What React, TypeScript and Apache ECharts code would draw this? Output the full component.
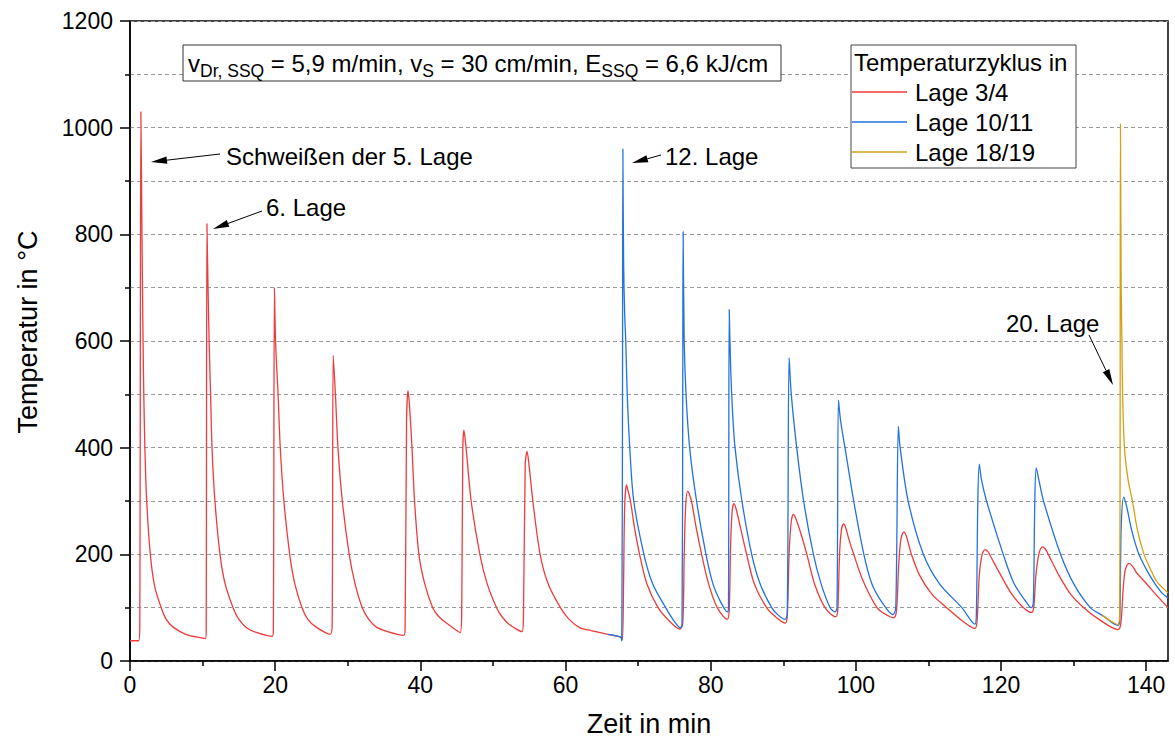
import React, { useEffect, useRef } from "react";
import * as echarts from "echarts";

// ---- data (time in min, temperature in °C) ----
const seriesNames = ["Lage 3/4", "Lage 10/11", "Lage 18/19"];
const seriesColors = ["#ee3b3b", "#2272e2", "#d6a010"];

const lage34: [number, number][] = [
  [0, 38], [1.2, 38], [1.35, 70], [1.5, 1030], [1.65, 800], [1.8, 600], [1.9, 500], [2.05, 400], [2.3, 300], [2.8, 200], [3.4, 140], [4.3, 100], [5.0, 78], [5.9, 64], [7.7, 50], [10.4, 42],
  [10.5, 60], [10.6, 820], [10.75, 700], [10.9, 600], [11.1, 500], [11.3, 400], [11.7, 300], [12.4, 200], [13.1, 145], [14.2, 100], [15.0, 78], [16.1, 62], [17.5, 53], [19.6, 46],
  [19.75, 60], [19.9, 700], [20.05, 600], [20.4, 500], [20.7, 400], [21.2, 300], [22.0, 200], [22.7, 145], [23.7, 100], [24.5, 78], [25.6, 64], [27.6, 50],
  [27.85, 70], [28.0, 573], [28.3, 500], [28.65, 400], [29.25, 300], [30.2, 200], [31.0, 145], [32.0, 100], [32.9, 78], [33.9, 64], [35.5, 55], [37.7, 48],
  [37.9, 60], [38.1, 450], [38.3, 507], [38.5, 480], [38.85, 400], [39.2, 300], [39.8, 200], [40.6, 145], [41.7, 100], [42.5, 84], [43.5, 72], [45.5, 53],
  [45.7, 100], [45.85, 400], [46.0, 433], [46.3, 400], [47.0, 300], [48.2, 200], [49.2, 145], [50.5, 100], [51.3, 82], [52.3, 68], [54.0, 55],
  [54.2, 80], [54.45, 370], [54.7, 393], [54.95, 370], [55.5, 300], [56.5, 200], [57.6, 145], [59.3, 100], [60.5, 78], [62.0, 62], [63.5, 57], [65.8, 50], [67.7, 44], [67.85, 40],
  [68.0, 150], [68.15, 290], [68.4, 330], [68.6, 320], [68.95, 300], [69.5, 250], [70.2, 200], [71.2, 145], [72.75, 100], [74.3, 75], [75.75, 60],
  [76.15, 70], [76.35, 200], [76.55, 290], [76.8, 318], [77.0, 315], [77.35, 300], [78.0, 250], [78.75, 200], [79.7, 145], [80.9, 100], [82.3, 78],
  [82.55, 95], [82.75, 220], [82.95, 280], [83.2, 295], [83.5, 285], [84.1, 250], [84.95, 200], [86.0, 145], [87.7, 100], [89.0, 82], [90.25, 71],
  [90.55, 85], [90.8, 200], [91.1, 262], [91.4, 275], [91.7, 268], [92.4, 240], [93.25, 200], [94.3, 145], [95.75, 100], [97.2, 83],
  [97.5, 95], [97.75, 200], [98.0, 245], [98.3, 257], [98.6, 250], [99.0, 230], [99.7, 200], [101.0, 150], [102.9, 100], [104.0, 88], [105.2, 81],
  [105.6, 95], [105.9, 180], [106.2, 228], [106.6, 242], [107.0, 232], [107.65, 200], [108.8, 160], [110.5, 125], [112.5, 100], [114.5, 77], [116.4, 61],
  [116.7, 75], [117.0, 160], [117.4, 200], [117.8, 209], [118.2, 205], [118.6, 195], [120.0, 160], [121.5, 125], [123.1, 100], [124.2, 91],
  [124.5, 100], [124.8, 160], [125.2, 200], [125.7, 214], [126.1, 210], [126.5, 200], [128.0, 160], [129.6, 125], [131.4, 100], [133.5, 78], [136.1, 59],
  [136.5, 70], [136.8, 130], [137.1, 170], [137.6, 183], [138.1, 178], [138.7, 165], [140.1, 144], [141.5, 122], [143, 100],
];

const lage1011: [number, number][] = [
  [65.8, 50], [67.6, 45], [67.75, 38], [67.85, 500], [67.9, 960], [68.0, 750], [68.15, 650], [68.3, 600], [68.5, 500], [68.85, 400], [69.4, 300], [70.8, 200], [72.0, 145], [73.8, 100], [74.8, 78], [75.85, 62],
  [76.05, 70], [76.15, 500], [76.2, 805], [76.35, 600], [76.6, 500], [77.1, 400], [78.05, 300], [79.35, 200], [80.3, 145], [81.4, 110], [82.3, 92],
  [82.45, 100], [82.55, 659], [82.75, 550], [83.0, 470], [83.35, 400], [84.3, 300], [85.65, 200], [86.8, 145], [88.4, 100], [89.3, 86], [90.25, 78],
  [90.55, 90], [90.8, 569], [91.1, 500], [91.85, 400], [92.8, 300], [94.15, 200], [95.2, 145], [96.45, 100], [97.15, 92],
  [97.4, 100], [97.6, 489], [97.9, 450], [98.5, 400], [99.7, 300], [101.1, 200], [102.2, 145], [103.6, 110], [105.1, 87],
  [105.5, 100], [105.85, 440], [106.1, 400], [107.2, 300], [109.3, 200], [111.5, 145], [114.6, 100], [116.4, 69],
  [116.6, 90], [116.8, 300], [117.0, 369], [117.3, 340], [118.0, 300], [120.3, 200], [121.8, 145], [123.8, 104], [124.2, 100],
  [124.45, 110], [124.65, 300], [124.85, 362], [125.2, 340], [125.85, 300], [128.2, 200], [130.0, 145], [132.3, 100], [134.0, 85], [136.1, 67],
  [136.35, 75], [136.55, 250], [136.9, 307], [137.3, 290], [138.0, 245], [139.0, 200], [140.5, 160], [142.0, 130], [143, 118],
];

const lage1819: [number, number][] = [
  [133.9, 86], [135.0, 76], [136.1, 68], [136.35, 100], [136.45, 1007], [136.55, 700], [136.65, 600], [136.75, 500], [137.0, 400], [137.5, 340], [138.1, 300], [138.8, 245], [139.7, 200], [140.5, 175], [141.4, 150], [142.2, 138], [143, 128],
];

const xMajorTicks = [0, 20, 40, 60, 80, 100, 120, 140];
const xMinorTicks = [10, 30, 50, 70, 90, 110, 130];
const xTitle = "Zeit in min";
const yTitle = "Temperatur in °C";
const legendTitle = "Temperaturzyklus in";

const FONT = "'Liberation Sans', Arial, Helvetica, sans-serif";

function arrow(x1: number, y1: number, x2: number, y2: number) {
  const dx = x2 - x1;
  const dy = y2 - y1;
  const len = Math.sqrt(dx * dx + dy * dy);
  const ux = dx / len;
  const uy = dy / len;
  const hl = 16;
  const hw = 3.6;
  const bx = x2 - ux * hl;
  const by = y2 - uy * hl;
  return [
    {
      type: "line",
      z: 100,
      shape: { x1, y1, x2: bx, y2: by },
      style: { stroke: "#000", lineWidth: 1 },
    },
    {
      type: "polygon",
      z: 100,
      shape: {
        points: [
          [x2, y2],
          [bx - uy * hw, by + ux * hw],
          [bx + uy * hw, by - ux * hw],
        ],
      },
      style: { fill: "#000" },
    },
  ];
}

function label(text: string, x: number, y: number) {
  return {
    type: "text",
    z: 100,
    x,
    y,
    style: {
      text,
      fontSize: 24,
      fontFamily: FONT,
      fill: "#000",
      align: "left",
      verticalAlign: "middle",
    },
  };
}

export default function App() {
  const ref = useRef<HTMLDivElement>(null);

  useEffect(() => {
    document.body.style.margin = "0";
    if (!ref.current) return;
    const chart = echarts.init(ref.current, null, { renderer: "svg" });

    const axisLabelStyle = { fontSize: 23, fontFamily: FONT, color: "#000" };
    const dashed = { color: "#9a9a9a", width: 1, type: [4, 3] as any };

    const option: any = {
      animation: false,
      backgroundColor: "#fff",
      textStyle: { fontFamily: FONT },
      grid: {
        left: 130,
        top: 21,
        width: 1038,
        height: 640,
        containLabel: false,
        outerBoundsMode: "none",
        show: true,
        borderColor: "#000",
        borderWidth: 1.5,
        backgroundColor: "transparent",
      },
      legend: {
        show: true,
        orient: "vertical",
        left: 852,
        top: 80,
        itemWidth: 55,
        itemHeight: 1.5,
        itemGap: 6,
        selectedMode: false,
        padding: 0,
        data: seriesNames.map((name) => ({ name, icon: "rect" })),
        textStyle: {
          fontSize: 24,
          lineHeight: 24,
          fontFamily: FONT,
          color: "#000",
          padding: [0, 0, 0, 3],
        },
        z: 110,
      },
      xAxis: [
        {
          type: "value",
          min: 0,
          max: 143,
          interval: 20,
          position: "bottom",
          axisLine: { show: true, onZero: false, lineStyle: { color: "#000", width: 1.5 } },
          axisTick: {
            show: true,
            inside: false,
            length: 10,
            customValues: xMajorTicks,
            lineStyle: { color: "#000", width: 1.5 },
          },
          axisLabel: {
            show: true,
            margin: 12,
            customValues: xMajorTicks,
            formatter: (v: number) => String(v),
            ...axisLabelStyle,
          },
          splitLine: { show: false },
        },
        {
          type: "value",
          min: 0,
          max: 143,
          interval: 10,
          position: "bottom",
          axisLine: { show: false, onZero: false },
          axisTick: {
            show: true,
            inside: false,
            length: 5,
            customValues: xMinorTicks,
            lineStyle: { color: "#000", width: 1.5 },
          },
          axisLabel: { show: false },
          splitLine: { show: false },
        },
      ],
      yAxis: {
        type: "value",
        min: 0,
        max: 1200,
        interval: 200,
        axisLine: { show: true, onZero: false, lineStyle: { color: "#000", width: 1.5 } },
        axisTick: { show: true, inside: false, length: 10, lineStyle: { color: "#000", width: 1.5 } },
        minorTick: { show: true, splitNumber: 2, length: 5, lineStyle: { color: "#000", width: 1.5 } },
        axisLabel: {
          margin: 17,
          formatter: (v: number) => String(v),
          ...axisLabelStyle,
        },
        splitLine: { show: true, lineStyle: dashed },
        minorSplitLine: { show: true, lineStyle: dashed },
      },
      series: [lage34, lage1011, lage1819].map((d, i) => ({
        name: seriesNames[i],
        type: "line",
        xAxisIndex: 0,
        yAxisIndex: 0,
        data: d,
        showSymbol: false,
        symbol: "none",
        smooth: 0.3,
        color: seriesColors[i],
        lineStyle: { color: seriesColors[i], width: 1.3 },
        z: 2 + i,
      })),
      graphic: [
        // parameter box
        {
          type: "rect",
          z: 90,
          shape: { x: 183, y: 45, width: 598, height: 36 },
          style: { fill: "#fff", stroke: "#333", lineWidth: 1 },
        },
        {
          type: "text",
          z: 100,
          x: 188,
          y: 63,
          style: {
            text:
              "{m|v}{s|Dr, SSQ}{m| = 5,9 m/min, v}{s|S}{m| = 30 cm/min, E}{s|SSQ}{m| = 6,6 kJ/cm}",
            fontFamily: FONT,
            fill: "#000",
            align: "left",
            verticalAlign: "middle",
            rich: {
              m: { fontSize: 24, lineHeight: 34, verticalAlign: "middle", fontFamily: FONT, fill: "#000" },
              s: { fontSize: 17.5, lineHeight: 17, verticalAlign: "bottom", fontFamily: FONT, fill: "#000" },
            },
          },
        },
        // legend box
        {
          type: "rect",
          z: 90,
          shape: { x: 851, y: 45, width: 225, height: 123 },
          style: { fill: "#fff", stroke: "#444", lineWidth: 1 },
        },
        label(legendTitle, 854, 62),
        // annotations
        label("Schweißen der 5. Lage", 226, 156),
        ...arrow(220, 154, 151, 162),
        label("6. Lage", 266, 207),
        ...arrow(262, 211, 213, 229),
        label("12. Lage", 665, 156),
        ...arrow(661, 155, 632, 163),
        label("20. Lage", 1006, 323),
        ...arrow(1089, 335, 1113, 385),
        // axis titles
        {
          type: "text",
          z: 100,
          x: 649,
          y: 724,
          style: {
            text: xTitle,
            fontSize: 27,
            fontFamily: FONT,
            fill: "#000",
            align: "center",
            verticalAlign: "middle",
          },
        },
        {
          type: "text",
          z: 100,
          x: 28,
          y: 332,
          rotation: Math.PI / 2,
          style: {
            text: yTitle,
            fontSize: 27,
            fontFamily: FONT,
            fill: "#000",
            align: "center",
            verticalAlign: "middle",
          },
        },
      ],
    };

    chart.setOption(option);
    return () => {
      chart.dispose();
    };
  }, []);

  return <div ref={ref} style={{ width: 1175, height: 740 }} />;
}
